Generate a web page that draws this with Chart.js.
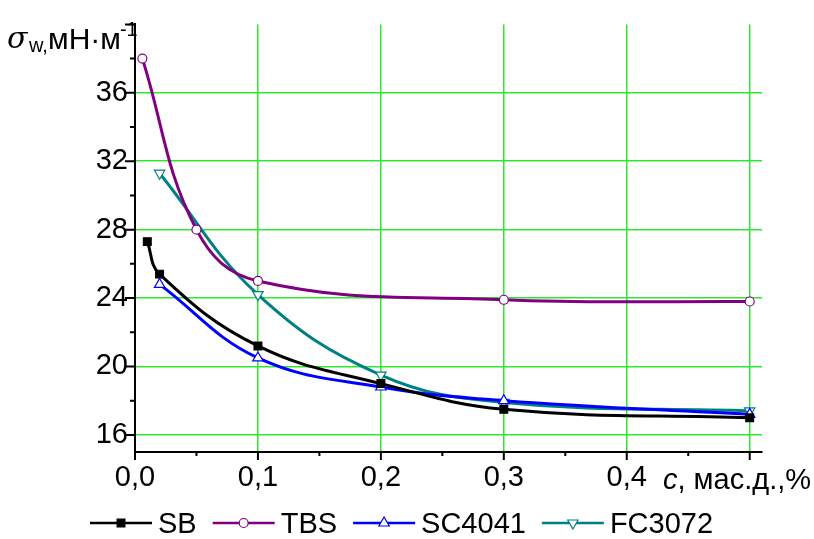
<!DOCTYPE html>
<html>
<head>
<meta charset="utf-8">
<script src="https://cdn.jsdelivr.net/npm/chart.js@4.4.1/dist/chart.umd.min.js"></script>
<style>
  html, body { margin: 0; padding: 0; background: #fff; }
  #wrap { width: 814px; height: 539px; }
</style>
</head>
<body>
<div id="wrap"><canvas id="chart" width="814" height="539"></canvas></div>
<script>
// оси
const xTicks = [0, 0.1, 0.2, 0.3, 0.4, 0.5];
const xTickLabels = ["0,0", "0,1", "0,2", "0,3", "0,4", ""];
const xMinorTicks = [0.05, 0.15, 0.25, 0.35, 0.45];
const yTicks = [16, 20, 24, 28, 32, 36];
const yTickLabels = ["16", "20", "24", "28", "32", "36"];
const yExtraMajor = [40];
const yMinorTicks = [18, 22, 26, 30, 34, 38];

// данные
const seriesNames = ["SB", "TBS", "SC4041", "FC3072"];
const sbX = [0.01, 0.02, 0.1, 0.2, 0.3, 0.5];
const sbY = [27.3, 25.4, 21.2, 19.0, 17.5, 17.0];
const tbsX = [0.006, 0.05, 0.1, 0.3, 0.5];
const tbsY = [38.0, 28.0, 25.0, 23.9, 23.8];
const scX = [0.02, 0.1, 0.2, 0.3, 0.5];
const scY = [24.8, 20.5, 18.8, 18.0, 17.2];
const fcX = [0.02, 0.1, 0.2, 0.3, 0.5];
const fcY = [31.3, 24.2, 19.5, 17.9, 17.4];

const toPoints = (xs, ys) => xs.map((x, i) => ({ x: x, y: ys[i] }));
const FONT = "'Liberation Sans', Arial, sans-serif";
const FSIZE = 29;
const GRID = "#2ee82e";

function series(label, xs, ys, color, style, radius, fill, rotation) {
  return {
    label: label,
    data: toPoints(xs, ys),
    borderColor: color,
    borderWidth: 3,
    tension: 0.4,
    pointStyle: style,
    pointRadius: radius,
    pointRotation: rotation || 0,
    pointBackgroundColor: fill,
    pointBorderColor: color,
    pointBorderWidth: 1.2,
    fill: false,
  };
}

const datasets = [
  series(seriesNames[0], sbX, sbY, "#000000", "rect", 5.5, "#000000"),
  series(seriesNames[1], tbsX, tbsY, "#800080", "circle", 4.5, "#ffffff"),
  series(seriesNames[2], scX, scY, "#0000ff", "triangle", 6, "#ffffff"),
  series(seriesNames[3], fcX, fcY, "#008080", "triangle", 6, "#ffffff", 180),
];

// маркер для легенды
function marker(ctx, ds, x, y) {
  const r = ds.pointRadius;
  ctx.save();
  ctx.fillStyle = ds.pointBackgroundColor;
  ctx.strokeStyle = ds.pointBorderColor;
  ctx.lineWidth = ds.pointBorderWidth;
  ctx.beginPath();
  if (ds.pointStyle === "rect") {
    const s = r * Math.SQRT1_2;
    ctx.rect(x - s, y - s, 2 * s, 2 * s);
  } else if (ds.pointStyle === "circle") {
    ctx.arc(x, y, r, 0, Math.PI * 2);
  } else {
    const d = ds.pointRotation === 180 ? -1 : 1;
    ctx.moveTo(x, y - d * r);
    ctx.lineTo(x + r * 0.866, y + d * r / 2);
    ctx.lineTo(x - r * 0.866, y + d * r / 2);
    ctx.closePath();
  }
  ctx.fill();
  ctx.stroke();
  ctx.restore();
}

const decorPlugin = {
  id: "decor",
  afterDraw(chart) {
    const ctx = chart.ctx;
    const xs = chart.scales.x, ys = chart.scales.y;
    const area = chart.chartArea;
    ctx.save();
    ctx.strokeStyle = "#000";
    ctx.lineWidth = 2;
    // засечки
    ctx.beginPath();
    yTicks.concat(yExtraMajor).forEach(v => {
      const p = ys.getPixelForValue(v);
      ctx.moveTo(area.left - 10, p); ctx.lineTo(area.left, p);
    });
    yMinorTicks.forEach(v => {
      const p = ys.getPixelForValue(v);
      ctx.moveTo(area.left - 5, p); ctx.lineTo(area.left, p);
    });
    xTicks.forEach(v => {
      const p = xs.getPixelForValue(v);
      ctx.moveTo(p, area.bottom); ctx.lineTo(p, area.bottom + 8);
    });
    xMinorTicks.forEach(v => {
      const p = xs.getPixelForValue(v);
      ctx.moveTo(p, area.bottom); ctx.lineTo(p, area.bottom + 4);
    });
    ctx.stroke();

    // подписи осей
    ctx.fillStyle = "#000";
    ctx.textBaseline = "alphabetic";
    ctx.textAlign = "left";
    ctx.font = "italic 30px 'DejaVu Serif', serif";
    ctx.fillText("σ", 7, 48);
    ctx.font = "20px " + FONT;
    ctx.fillText("w,", 29, 52);
    ctx.font = "30px " + FONT;
    ctx.fillText("мН·м", 48, 49);
    let w = ctx.measureText("мН·м").width;
    ctx.font = "20px " + FONT;
    ctx.fillText("-1", 47 + w, 36);

    ctx.font = "italic " + FSIZE + "px " + FONT;
    ctx.fillText("c", 663, 489);
    let cw = ctx.measureText("c").width;
    ctx.font = FSIZE + "px " + FONT;
    ctx.fillText(", мас.д.,%", 663 + cw, 489);

    // легенда
    let x = 90;
    const ly = 523;
    ctx.font = FSIZE + "px " + FONT;
    chart.data.datasets.forEach(ds => {
      ctx.strokeStyle = ds.borderColor;
      ctx.lineWidth = 2.5;
      ctx.beginPath();
      ctx.moveTo(x, ly); ctx.lineTo(x + 62, ly);
      ctx.stroke();
      marker(ctx, ds, x + 31, ly);
      ctx.fillStyle = "#000";
      ctx.textBaseline = "alphabetic";
      ctx.fillText(ds.label, x + 68, 533);
      x += 68 + ctx.measureText(ds.label).width + 16;
    });
    ctx.restore();
  }
};

new Chart(document.getElementById("chart"), {
  type: "line",
  data: { datasets: datasets },
  plugins: [decorPlugin],
  options: {
    responsive: false,
    animation: false,
    layout: { padding: { left: 0, top: 14, right: 52, bottom: 0 } },
    plugins: { legend: { display: false }, tooltip: { enabled: false } },
    scales: {
      x: {
        type: "linear",
        min: 0,
        max: 0.51,
        afterFit: s => { s.height = 87; },
        afterBuildTicks: s => { s.ticks = xTicks.map(v => ({ value: v })); },
        ticks: {
          color: "#000",
          font: { family: FONT, size: FSIZE },
          padding: 9,
          maxRotation: 0,
          callback: (v, i) => xTickLabels[i],
        },
        grid: { color: GRID, lineWidth: 1.5, drawTicks: false },
        border: { color: "#000", width: 2 },
      },
      y: {
        type: "linear",
        min: 15,
        max: 40,
        afterFit: s => { s.width = 135; },
        afterBuildTicks: s => { s.ticks = yTicks.map(v => ({ value: v })); },
        ticks: {
          color: "#000",
          font: { family: FONT, size: FSIZE },
          padding: 7,
          callback: (v, i) => yTickLabels[i],
        },
        grid: { color: GRID, lineWidth: 1.5, drawTicks: false },
        border: { color: "#000", width: 2 },
      },
    },
  },
});
</script>
</body>
</html>
